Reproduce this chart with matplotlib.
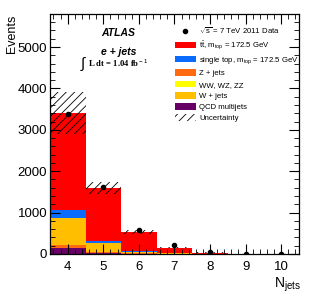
import numpy as np
import matplotlib
matplotlib.use("Agg")
import matplotlib.pyplot as plt
from matplotlib.patches import Patch
from matplotlib.lines import Line2D
from matplotlib.ticker import MultipleLocator

plt.rcParams['font.family'] = ['Liberation Sans', 'DejaVu Sans']
plt.rcParams['mathtext.fontset'] = 'custom'
plt.rcParams['mathtext.rm'] = 'Liberation Sans'
plt.rcParams['mathtext.it'] = 'Liberation Sans:italic'
plt.rcParams['hatch.linewidth'] = 0.6

njets = [4, 5, 6, 7, 8, 9, 10]
qcd = [150, 20, 5, 2, 0.5, 0.1, 0.0]
zjets = [60, 20, 10, 3, 1, 0.2, 0.0]
diboson = [10, 5, 2, 0.5, 0.1, 0.0, 0.0]
wjets = [640, 215, 40, 12, 3, 0.5, 0.1]
singletop = [190, 55, 15, 5, 1, 0.3, 0.1]
ttbar = [2350, 1285, 455, 130, 26, 4, 0.8]
unc = [510, 140, 50, 15, 4, 1, 0.3]
data = [3380, 1620, 575, 215, 55, 8, 1]

labels = [r"$\sqrt{\rm s}$ = 7 TeV 2011 Data",
          r"t$\bar{\rm t}$, m$_{\rm top}$ = 172.5 GeV",
          r"single top, m$_{\rm top}$ = 172.5 GeV",
          "Z + jets", "WW, WZ, ZZ", "W + jets", "QCD multijets", "Uncertainty"]
colors = {"tt": "#ff0000", "st": "#0a6cff", "z": "#ff6a10", "vv": "#ffff00",
          "w": "#ffbf00", "qcd": "#660066"}

fig = plt.figure(figsize=(3.16, 3.03), dpi=100)
ax = fig.add_axes([0.158, 0.162, 0.788, 0.792])

x = np.array(njets, dtype=float)
stack = [(qcd, colors["qcd"]), (zjets, colors["z"]), (diboson, colors["vv"]),
         (wjets, colors["w"]), (singletop, colors["st"]), (ttbar, colors["tt"])]
bottom = np.zeros(len(x))
for vals, c in stack:
    v = np.array(vals, dtype=float)
    ax.bar(x, v, width=1.0, bottom=bottom, color=c, edgecolor='none', linewidth=0)
    bottom += v
total = bottom
u = np.array(unc, dtype=float)
ax.bar(x, 2 * u, width=1.0, bottom=total - u, fill=False, hatch='////',
       edgecolor='black', linewidth=0)

d = np.array(data, dtype=float)
ax.errorbar(x, d, yerr=np.sqrt(d), fmt='o', color='black', ms=3, elinewidth=0.8,
            capsize=0, zorder=5)

ax.set_xlim(3.5, 10.5)
ax.set_ylim(0, 5800)
ax.xaxis.set_major_locator(MultipleLocator(1))
ax.xaxis.set_minor_locator(MultipleLocator(0.2))
ax.yaxis.set_major_locator(MultipleLocator(1000))
ax.yaxis.set_minor_locator(MultipleLocator(200))
ax.tick_params(which='both', direction='in', top=True, right=True, labelsize=9.5)
ax.tick_params(which='major', length=7, width=0.8)
ax.tick_params(which='minor', length=3.5, width=0.6)
ax.tick_params(axis='x', pad=5)
ax.tick_params(axis='y', pad=2)
for s in ax.spines.values():
    s.set_linewidth(0.9)

fig.text(0.02, 0.952, "Events", rotation=90, ha='left', va='top', fontsize=9)
fig.text(0.952, 0.03, r"N$_{\rm jets}$", ha='right', va='bottom', fontsize=10)

ax.text(0.273, 0.921, "ATLAS", transform=ax.transAxes, fontsize=7.5,
        fontweight='bold', style='italic', ha='center', va='center')
ax.text(0.275, 0.842, "e + jets", transform=ax.transAxes, fontsize=7.5,
        fontweight='bold', style='italic', ha='center', va='center')
ax.text(0.137, 0.790, r"$\int$", transform=ax.transAxes, fontsize=11,
        ha='center', va='center')
ax.text(0.153, 0.793, r"L dt = 1.04 fb$^{\rm -1}$", transform=ax.transAxes,
        fontsize=6.2, family='Liberation Serif', fontweight='bold', ha='left', va='center')

handles = [Line2D([], [], marker='o', color='black', ls='none', ms=3),
           Patch(facecolor=colors["tt"]), Patch(facecolor=colors["st"]),
           Patch(facecolor=colors["z"]), Patch(facecolor=colors["vv"]),
           Patch(facecolor=colors["w"]), Patch(facecolor=colors["qcd"]),
           Patch(facecolor='white', hatch='////', edgecolor='black', linewidth=0)]
ax.legend(handles, labels, loc='upper left', bbox_to_anchor=(0.502, 0.95),
          frameon=False, fontsize=5.6, handlelength=2.7, handleheight=0.95,
          labelspacing=0.42, handletextpad=0.4, borderpad=0, borderaxespad=0)

fig.savefig("out.png", dpi=100)
